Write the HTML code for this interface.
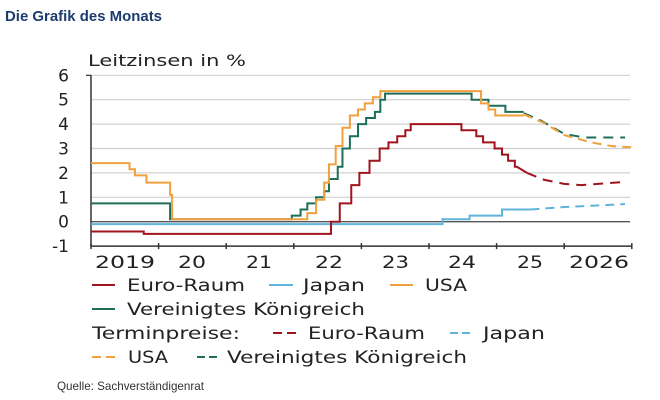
<!DOCTYPE html>
<html><head><meta charset="utf-8"><style>
html,body{margin:0;padding:0;background:#fff;width:660px;height:400px;overflow:hidden}
svg{display:block}
text{font-family:"DejaVu Sans","Liberation Sans",sans-serif;fill:#222}
</style></head><body>
<svg id="s" width="660" height="400" viewBox="0 0 660 400" xmlns="http://www.w3.org/2000/svg">
<text x="5" y="21" style="font-family:'Liberation Sans',sans-serif;font-weight:bold;font-size:15px;fill:#1d3c6e" textLength="157" lengthAdjust="spacingAndGlyphs">Die Grafik des Monats</text>
<text x="88" y="66" font-size="16" textLength="158" lengthAdjust="spacingAndGlyphs">Leitzinsen in %</text>
<g id="grid"></g>
<g id="series" fill="none" stroke-width="2"></g>
<g font-size="17">
<text x="95" y="268" textLength="60" lengthAdjust="spacingAndGlyphs">2019</text>
<text x="178" y="268" textLength="28" lengthAdjust="spacingAndGlyphs">20</text>
<text x="246" y="268" textLength="26" lengthAdjust="spacingAndGlyphs">21</text>
<text x="315" y="268" textLength="28" lengthAdjust="spacingAndGlyphs">22</text>
<text x="382" y="268" textLength="27" lengthAdjust="spacingAndGlyphs">23</text>
<text x="448" y="268" textLength="28" lengthAdjust="spacingAndGlyphs">24</text>
<text x="517" y="268" textLength="26" lengthAdjust="spacingAndGlyphs">25</text>
<text x="569" y="268" textLength="60" lengthAdjust="spacingAndGlyphs">2026</text>
</g>
<g font-size="17" stroke-width="2">
<line x1="92" y1="285" x2="115" y2="285" stroke="#a0141e"/>
<text x="127" y="291" textLength="118" lengthAdjust="spacingAndGlyphs">Euro-Raum</text>
<line x1="269" y1="285" x2="293" y2="285" stroke="#5fb4dc"/>
<text x="303" y="291" textLength="62" lengthAdjust="spacingAndGlyphs">Japan</text>
<line x1="390" y1="285" x2="413" y2="285" stroke="#f0a03c"/>
<text x="425" y="291" textLength="42" lengthAdjust="spacingAndGlyphs">USA</text>
<line x1="92" y1="309" x2="115" y2="309" stroke="#1e6e5a"/>
<text x="127" y="315" textLength="238" lengthAdjust="spacingAndGlyphs">Vereinigtes Königreich</text>
<text x="92" y="339" textLength="148" lengthAdjust="spacingAndGlyphs">Terminpreise:</text>
<line x1="273" y1="333" x2="297" y2="333" stroke="#a0141e" stroke-dasharray="9,5"/>
<text x="308" y="339" textLength="117" lengthAdjust="spacingAndGlyphs">Euro-Raum</text>
<line x1="450" y1="333" x2="470" y2="333" stroke="#5fb4dc" stroke-dasharray="8,4"/>
<text x="483" y="339" textLength="62" lengthAdjust="spacingAndGlyphs">Japan</text>
<line x1="92" y1="357" x2="115" y2="357" stroke="#f0a03c" stroke-dasharray="9,5"/>
<text x="128" y="363" textLength="40" lengthAdjust="spacingAndGlyphs">USA</text>
<line x1="197" y1="357" x2="217" y2="357" stroke="#1e6e5a" stroke-dasharray="8,4"/>
<text x="227" y="363" textLength="240" lengthAdjust="spacingAndGlyphs">Vereinigtes Königreich</text>
</g>
<text x="57" y="390" style="font-family:'Liberation Sans',sans-serif;font-size:12px;fill:#333" textLength="147" lengthAdjust="spacingAndGlyphs">Quelle: Sachverständigenrat</text>
</svg>
<script>
var NS="http://www.w3.org/2000/svg";
function X(t){return 91+67.6*(t-2019);}
function Y(v){return 221.7-24.4*v;}
function el(p,tag,a){var e=document.createElementNS(NS,tag);for(var k in a)e.setAttribute(k,a[k]);p.appendChild(e);return e;}
var g=document.getElementById('grid');
for(var v=-1;v<=6;v++){
  if(v==0||v==-1)continue;
  el(g,'line',{x1:91,x2:630,y1:Y(v),y2:Y(v),stroke:'#d0d0d0','stroke-width':1.2});
}
el(g,'line',{x1:91,x2:630,y1:Y(0),y2:Y(0),stroke:'#555','stroke-width':1.3});
el(g,'line',{x1:91,x2:632,y1:Y(-1),y2:Y(-1),stroke:'#333','stroke-width':1.5});
el(g,'line',{x1:91,x2:91,y1:Y(6),y2:Y(-1),stroke:'#333','stroke-width':1.5});
for(var y=2019;y<=2027;y++){el(g,'line',{x1:X(y),x2:X(y),y1:Y(-1)-3,y2:Y(-1)+3,stroke:'#333','stroke-width':1.5});}
el(g,'line',{x1:86,x2:91,y1:Y(6),y2:Y(6),stroke:'#333','stroke-width':1.2});
var yl=document.getElementById('s');
for(var v=-1;v<=6;v++){var t=el(yl,'text',{x:69,y:Y(v)+6,'text-anchor':'end','font-size':17});t.textContent=v<0?'-1':String(v);}
function step(pts,end){var d='M'+X(pts[0][0])+' '+Y(pts[0][1]);
 for(var i=1;i<pts.length;i++){d+=' H'+X(pts[i][0])+' V'+Y(pts[i][1]);}
 d+=' H'+X(end);return d;}
function poly(pts){return 'M'+pts.map(function(p){return X(p[0])+' '+Y(p[1]);}).join(' L');}
var s=document.getElementById('series');
function line(d,c,dash){var a={d:d,stroke:c};if(dash)a['stroke-dasharray']=dash;el(s,'path',a);}
line(step([[2019,-0.1],[2024.2,0.1],[2024.6,0.25],[2025.08,0.5]],2025.5),'#5fb4dc');
line(poly([[2025.5,0.5],[2026,0.6],[2026.9,0.72]]),'#5fb4dc','9,6');
line(step([[2019,-0.4],[2019.78,-0.5],[2022.55,0],[2022.68,0.75],[2022.85,1.5],[2022.97,2.0],[2023.12,2.5],[2023.27,3.0],[2023.4,3.25],[2023.53,3.5],[2023.65,3.75],[2023.73,4.0],[2024.48,3.75],[2024.7,3.5],[2024.8,3.25],[2024.97,3.0],[2025.08,2.75],[2025.17,2.5],[2025.27,2.25]],2025.3)+' L'+X(2025.45)+' '+Y(2.0),'#a0141e');
line(poly([[2025.45,2.0],[2025.7,1.72],[2026,1.55],[2026.25,1.5],[2026.5,1.55],[2026.85,1.62]]),'#a0141e','10,7');
line(step([[2019,0.75],[2020.17,0.1],[2021.97,0.25],[2022.1,0.5],[2022.2,0.75],[2022.33,1.0],[2022.45,1.25],[2022.52,1.75],[2022.65,2.25],[2022.72,3.0],[2022.83,3.5],[2022.95,4.0],[2023.07,4.25],[2023.2,4.5],[2023.28,5.0],[2023.35,5.25],[2024.63,5.0],[2024.88,4.75],[2025.13,4.5]],2025.4),'#1e6e5a');
line(poly([[2025.4,4.45],[2025.65,4.15],[2026,3.6],[2026.3,3.45],[2026.9,3.45]]),'#1e6e5a','10,7');
line(step([[2019,2.4],[2019.57,2.15],[2019.65,1.9],[2019.82,1.6],[2020.17,1.1],[2020.2,0.1],[2022.2,0.35],[2022.33,0.9],[2022.45,1.6],[2022.52,2.35],[2022.62,3.1],[2022.72,3.85],[2022.83,4.35],[2022.95,4.6],[2023.05,4.85],[2023.17,5.1],[2023.28,5.35],[2024.77,4.85],[2024.88,4.6],[2024.98,4.35]],2025.4),'#f0a03c');
line(poly([[2025.4,4.4],[2025.7,4.05],[2026,3.55],[2026.4,3.25],[2026.7,3.1],[2027,3.05]]),'#f0a03c','9,6');
</script>
</body></html>
